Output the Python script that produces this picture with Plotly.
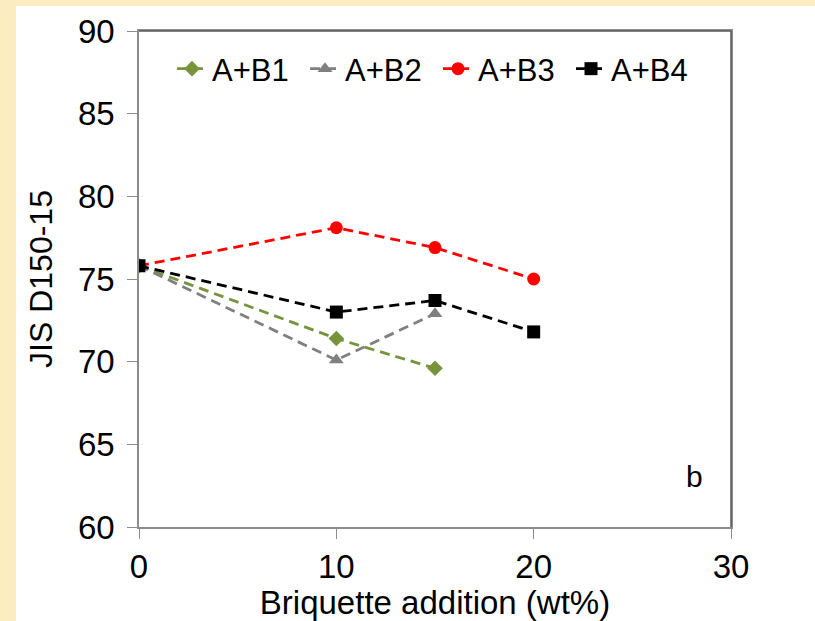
import plotly.graph_objects as go

x_b1 = [0, 10, 15]
y_b1 = [75.8, 71.4, 69.6]
x_b2 = [0, 10, 15]
y_b2 = [75.8, 70.1, 72.9]
x_b3 = [0, 10, 15, 20]
y_b3 = [75.8, 78.1, 76.9, 75.0]
x_b4 = [0, 10, 15, 20]
y_b4 = [75.8, 73.0, 73.7, 71.8]

names = ["A+B1", "A+B2", "A+B3", "A+B4"]
colors = ["#77933C", "#808080", "#FF0000", "#000000"]
symbols = ["diamond", "triangle-up", "circle", "square"]
sizes = [12, 13, 13, 13]

W, H = 815, 621
L, R, T, B = 139, 84, 31, 94
pw, ph = W - L - R, H - T - B

fig = go.Figure()
for xs, ys, n, c, s, sz in zip([x_b1, x_b2, x_b3, x_b4], [y_b1, y_b2, y_b3, y_b4],
                               names, colors, symbols, sizes):
    fig.add_trace(go.Scatter(x=xs, y=ys, name=n, mode="lines+markers",
                             line=dict(color=c, width=2.8, dash="10px,6px"),
                             marker=dict(color=c, symbol=s, size=sz)))

def px2paper_x(px):
    return (px - L) / pw

def px2paper_y(py):
    return 1 - (py - T) / ph

fig.add_shape(type="rect", xref="paper", yref="paper",
              x0=px2paper_x(16), x1=px2paper_x(W + 5),
              y0=px2paper_y(H + 5), y1=px2paper_y(6),
              fillcolor="white", line=dict(width=0), layer="below")
# darker top and right frame lines
fig.add_shape(type="line", xref="paper", yref="paper", x0=0, x1=1, y0=1, y1=1,
              line=dict(color="#595959", width=1.5))
fig.add_shape(type="line", xref="paper", yref="paper", x0=1, x1=1, y0=0, y1=1,
              line=dict(color="#595959", width=1.5))

fig.add_annotation(x=px2paper_x(694), y=px2paper_y(476), xref="paper", yref="paper",
                   xanchor="center", yanchor="middle",
                   text="b", showarrow=False, font=dict(size=30, color="black"))

axis_font = dict(family="Liberation Sans, Arial", size=33, color="black")
fig.update_layout(
    width=W, height=H,
    margin=dict(l=L, r=R, t=T, b=B),
    paper_bgcolor="#FCEDC0",
    plot_bgcolor="white",
    font=dict(family="Liberation Sans, Arial", color="black"),
    showlegend=True,
    legend=dict(orientation="h", x=px2paper_x(172), y=px2paper_y(42),
                xanchor="left", yanchor="top", bgcolor="rgba(0,0,0,0)",
                font=dict(size=31, family="Liberation Sans, Arial"),
                itemwidth=30, tracegroupgap=0, entrywidth=88, entrywidthmode="pixels"),
    xaxis=dict(range=[0, 30], tickvals=[0, 10, 20, 30], showgrid=False, zeroline=False,
               showline=True, linecolor="#8C8C8C", linewidth=1.5, mirror=True,
               ticks="outside", ticklen=10, tickcolor="#8C8C8C",
               tickfont=axis_font,
               title=dict(text="Briquette addition (wt%)", font=axis_font, standoff=0)),
    yaxis=dict(range=[60, 90], tickvals=[60, 65, 70, 75, 80, 85, 90], showgrid=False,
               zeroline=False, showline=True, linecolor="#8C8C8C", linewidth=1.5,
               mirror=True, ticks="outside", ticklen=10, tickcolor="#8C8C8C",
               tickfont=axis_font, ticklabelstandoff=6,
               title=dict(text="JIS D150-15", font=dict(family="Liberation Sans, Arial", size=32, color="black"), standoff=16)),
)

fig.write_html("out.html")
